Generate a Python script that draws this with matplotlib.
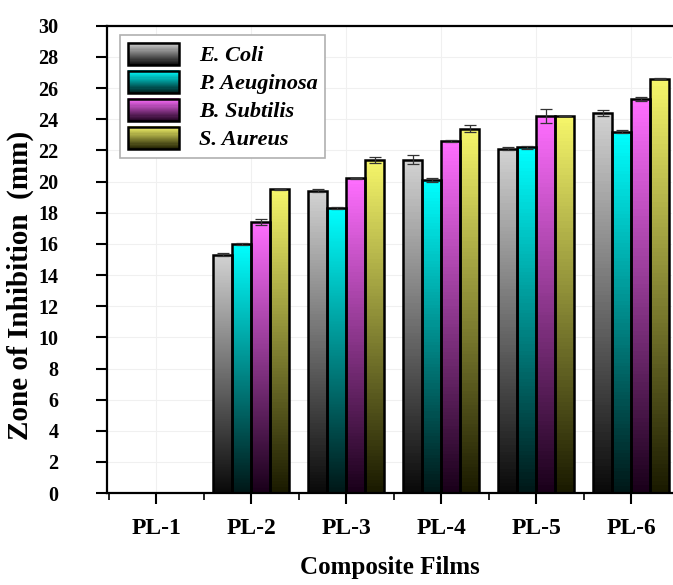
import numpy as np
import matplotlib
matplotlib.use("Agg")
import matplotlib.pyplot as plt
from matplotlib.patches import Rectangle
from matplotlib.legend_handler import HandlerBase
from matplotlib.colors import LinearSegmentedColormap

plt.rcParams['font.family'] = ['Liberation Serif', 'DejaVu Serif']

films = ['PL-1', 'PL-2', 'PL-3', 'PL-4', 'PL-5', 'PL-6']
strains = ['E. Coli', 'P. Aeuginosa', 'B. Subtilis', 'S. Aureus']

ecoli = [0, 15.3, 19.4, 21.4, 22.1, 24.4]
paeru = [0, 16.0, 18.3, 20.1, 22.2, 23.2]
bsub = [0, 17.4, 20.2, 22.6, 24.2, 25.3]
saur = [0, 19.5, 21.4, 23.4, 24.2, 26.6]

ecoli_err = [0, 0.1, 0.1, 0.3, 0.1, 0.2]
paeru_err = [0, 0.05, 0.05, 0.1, 0.1, 0.1]
bsub_err = [0, 0.2, 0.05, 0.05, 0.45, 0.1]
saur_err = [0, 0.05, 0.2, 0.25, 0.0, 0.05]

# (top colour, bottom colour) for the vertical gradients
grads = [('#d2d2d2', '#0a0a0a'),
         ('#00ffff', '#001818'),
         ('#ff6eff', '#1a001a'),
         ('#f6f66a', '#1a1a00')]

series = [ecoli, paeru, bsub, saur]
errs = [ecoli_err, paeru_err, bsub_err, saur_err]


class GradHandler(HandlerBase):
    def __init__(self, top, bot):
        super().__init__()
        self.top, self.bot = top, bot

    def create_artists(self, legend, orig_handle, xdescent, ydescent,
                       width, height, fontsize, trans):
        cm = LinearSegmentedColormap.from_list('g', [self.bot, self.top])
        arts = []
        n = 20
        for i in range(n):
            r = Rectangle((-xdescent, -ydescent + height * i / n), width, height / n + 0.3,
                          facecolor=cm((i + 0.5) / n), edgecolor='none', transform=trans)
            arts.append(r)
        arts.append(Rectangle((-xdescent, -ydescent), width, height, facecolor='none',
                              edgecolor='black', lw=1.8, transform=trans))
        return arts


fig = plt.figure(figsize=(6.73, 5.85), dpi=100)
ax = fig.add_axes([0.159, 0.157, 0.84, 0.799])

x = np.arange(1, len(films) + 1)
w = 0.2
offs = [-1.5, -0.5, 0.5, 1.5]

for k in range(4):
    top, bot = grads[k]
    cm = LinearSegmentedColormap.from_list('g%d' % k, [bot, top])
    bars = ax.bar(x + offs[k] * w, series[k], w, facecolor='none',
                  edgecolor='black', linewidth=1.8, zorder=3)
    for b in bars:
        h = b.get_height()
        if h <= 0:
            continue
        x0 = b.get_x()
        grad = np.linspace(1, 0, 100).reshape(-1, 1)
        im = ax.imshow(grad, cmap=cm, vmin=0, vmax=1, aspect='auto',
                       extent=(x0, x0 + w, 0, h), zorder=2)
        im.set_clip_path(b)
    ax.errorbar(x[1:] + offs[k] * w, series[k][1:], yerr=errs[k][1:], fmt='none',
                ecolor='#333333', elinewidth=0.9, capsize=4, capthick=0.9, zorder=4)

ax.set_xlim(0.48, 6.43)
ax.set_ylim(0, 30)
ax.set_yticks(range(0, 31, 2))
ax.set_xticks(x)
ax.set_xticklabels(films)
ax.set_xticks(np.arange(0.5, 6.5, 1.0), minor=True)

ax.grid(True, color='#f0f0f0', lw=0.8, zorder=0)
ax.set_axisbelow(True)

for s in ['left', 'bottom', 'top']:
    ax.spines[s].set_linewidth(1.6)
ax.spines['right'].set_visible(False)

ax.tick_params(axis='y', which='major', length=8, width=1.5, direction='out',
               labelsize=14.5, pad=27)
ax.tick_params(axis='x', which='major', length=8, width=1.5, direction='out',
               labelsize=17, pad=10)
ax.tick_params(axis='x', which='minor', length=5, width=1.2, direction='out')
for lab in ax.get_xticklabels() + ax.get_yticklabels():
    lab.set_fontweight('bold')

ax.set_ylabel('Zone of Inhibition  (mm)', fontsize=21, fontweight='bold')
ax.yaxis.set_label_coords(-0.13, 0.445)
ax.set_xlabel('Composite Films', fontsize=18, fontweight='bold', labelpad=12)

handles = [Rectangle((0, 0), 1, 1) for _ in range(4)]
hmap = {handles[k]: GradHandler(*grads[k]) for k in range(4)}
leg = ax.legend(handles, strains, handler_map=hmap, loc='upper left',
                bbox_to_anchor=(0.023, 0.98), prop={'weight': 'bold', 'style': 'italic', 'size': 16},
                handlelength=2.3, handleheight=1.15, handletextpad=0.9, labelspacing=0.2,
                borderpad=0.35, borderaxespad=0, fancybox=False, edgecolor='#b0b0b0',
                framealpha=1)
leg.get_frame().set_linewidth(1.2)

fig.savefig('out.png', dpi=100)
